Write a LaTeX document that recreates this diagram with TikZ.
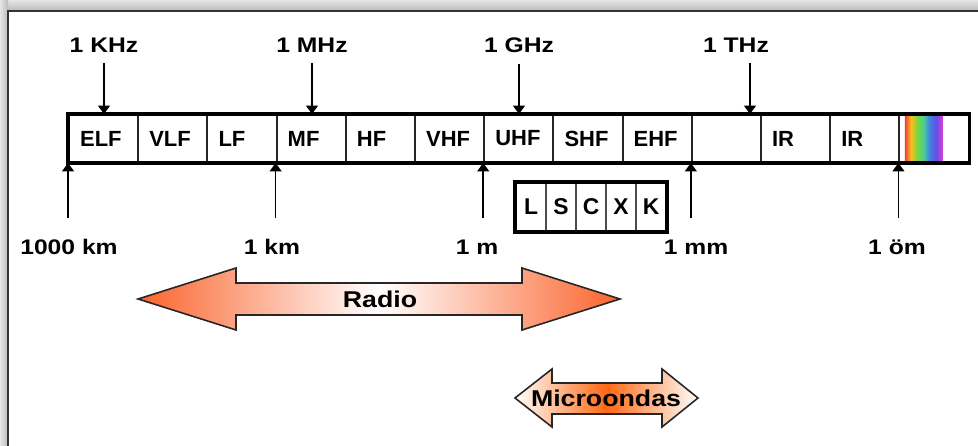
\documentclass[tikz,border=0pt]{standalone}
\usepackage{fontspec}
\setmainfont{Liberation Sans}
\newfontfamily\lblfont[FakeStretch=1.17]{Liberation Sans}
\usepackage{tikz}
\usetikzlibrary{arrows.meta,positioning,calc}
\definecolor{radioorange}{RGB}{250,100,45}
\definecolor{microorange}{RGB}{255,105,20}
\pgfdeclarehorizontalshading{rainbow}{100bp}{rgb(0bp)=(0.93,0.25,0.2); rgb(25bp)=(0.93,0.25,0.2); rgb(33bp)=(1,0.75,0.1); rgb(42bp)=(0.45,0.85,0.25); rgb(50bp)=(0.3,0.8,0.6); rgb(58bp)=(0.25,0.5,0.9); rgb(67bp)=(0.4,0.3,0.9); rgb(75bp)=(0.85,0.25,0.85); rgb(100bp)=(0.85,0.25,0.85)}
\tikzset{
  bandcell/.style={draw=black!85, line width=1.1pt, minimum width=1.384cm, minimum height=0.94cm, text width=0.94cm, align=left, inner sep=0pt, font=\bfseries\fontsize{12.5}{14}\selectfont},
  subcell/.style={draw=black!70, line width=1.1pt, minimum width=0.6cm, minimum height=0.96cm, inner sep=0pt, font=\bfseries\fontsize{13}{15}\selectfont},
  lbl/.style={inner sep=0pt, anchor=base, font=\lblfont\bfseries\fontsize{12}{14}\selectfont},
  arrtext/.style={inner sep=0pt, font=\lblfont\bfseries\fontsize{13}{15}\selectfont},
  arr/.style={-{Triangle[length=0.17cm, width=0.24cm]}, line width=0.85pt},
  uparr/.style={arr, shorten <=0.42cm},
  downarr/.style={arr, shorten <=0.2cm},
  bigarrow/.style={draw=black!85, line width=0.9pt}
}

\begin{document}
\begin{tikzpicture}[x=0.02cm, y=-0.02cm]
  \useasboundingbox (0,0) rectangle (978,446);
  % frame
  \shade[top color=gray!20, bottom color=gray!55] (0,0) rectangle (978,11);
  \shade[left color=gray!20, right color=gray!55] (0,0) rectangle (8,446);
  \draw[line width=1.2pt, black!80] (8,446) -- (8,11) -- (978,11);

  % spectrum band
  \foreach \t [count=\i] in {ELF,VLF,LF,MF,HF,VHF,UHF,SHF,EHF,{},IR,IR,{}}
    \node[bandcell] (c\i) at ({69+69.2*(\i-0.5)},138.5) {\t};
  \shade[shading=rainbow] ($(c13.north west)+(6.5,1)$) rectangle ($(c13.south west)+(44,-1)$);
  \draw[line width=2pt] (c1.north west) rectangle (c13.south east);

  % frequencies
  \node[lbl] (khz) at (104,53) {1 KHz};
  \node[lbl] (mhz) at (312,53) {1 MHz};
  \node[lbl] (ghz) at (519,53) {1 GHz};
  \node[lbl] (thz) at (736,53) {1 THz};
  \draw[downarr] (khz.south) -- (khz.south |- c1.north);
  \draw[downarr] (mhz.south) -- (mhz.south |- c4.north);
  \draw[downarr] (ghz.south) -- (ghz.south |- c7.north);
  \draw[downarr] ([xshift=0.28cm]thz.south) -- ([xshift=0.28cm]thz.south |- c10.north);

  % wavelengths
  \node[lbl] (km1000) at (69,255) {1000 km};
  \node[lbl] (km) at (272,255) {1 km};
  \node[lbl] (m) at (477,255) {1 m};
  \node[lbl] (mm) at (696,255) {1 mm};
  \node[lbl] (um) at (897,255) {1 öm};
  \draw[uparr] (c1.south west |- km1000.north) -- (c1.south west);
  \draw[uparr] (c4.south west |- km.north) -- (c4.south west);
  \draw[uparr] (c7.south west |- km.north) -- (c7.south west);
  \draw[uparr] (c10.south west |- km.north) -- (c10.south west);
  \draw[uparr] (c13.south west |- km.north) -- (c13.south west);

  % microwave sub-bands
  \foreach \t [count=\i] in {L,S,C,X,K}
    \node[subcell] (b\i) at ({516+30*(\i-0.5)},207) {\t};
  \draw[line width=2pt] (b1.north west) rectangle (b5.south east);

  % radio
  \shadedraw[bigarrow, left color=radioorange, right color=radioorange, middle color=white]
    (138,299) -- (236,268) -- (236,283) -- (522,283) -- (522,268) -- (620,299)
    -- (522,330) -- (522,315) -- (236,315) -- (236,330) -- cycle;
  \node[arrtext] (radio) at (380,299) {Radio};

  % microondas
  \shadedraw[bigarrow, left color=white, right color=white, middle color=microorange]
    (515,398) -- (552,369) -- (552,383) -- (662,383) -- (662,369) -- (698,398)
    -- (662,427) -- (662,414) -- (552,414) -- (552,427) -- cycle;
  \node[arrtext] (micro) at (606,398) {Microondas};
\end{tikzpicture}
\end{document}
